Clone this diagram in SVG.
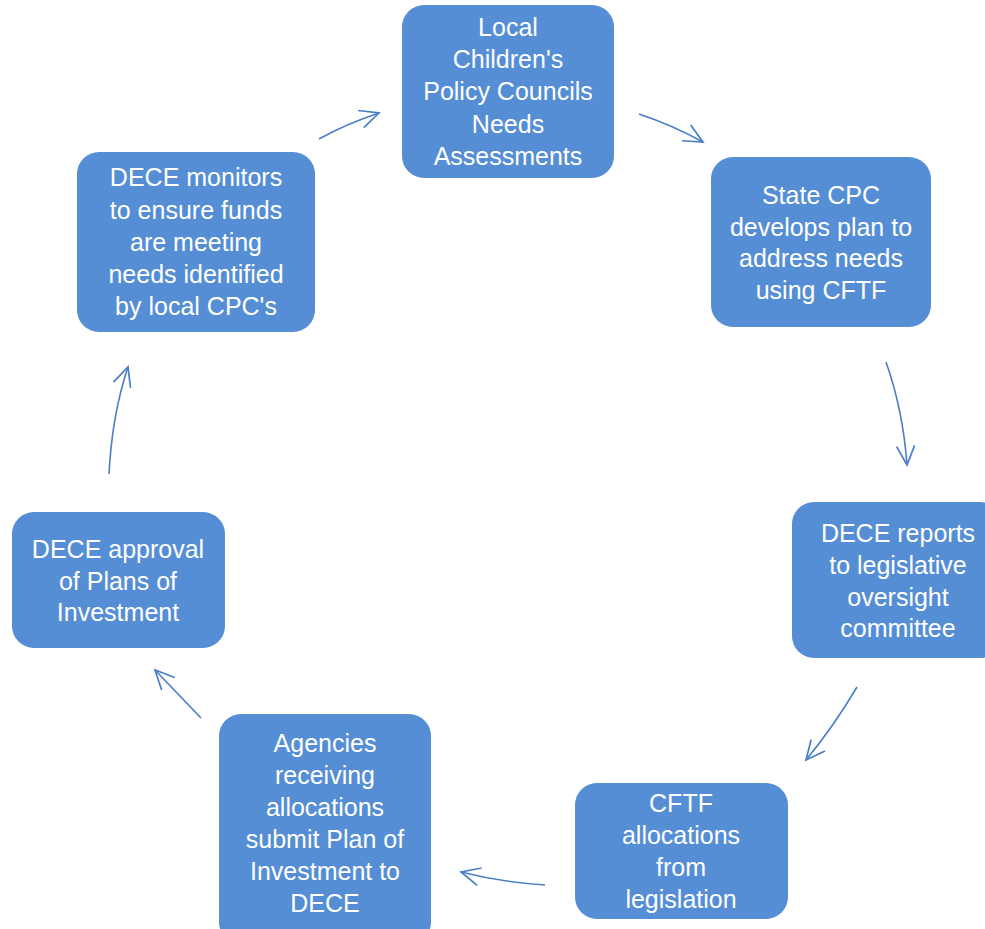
<svg xmlns="http://www.w3.org/2000/svg" width="985" height="929" viewBox="0 0 985 929">
<defs>
<style>
.box{fill:#558ED5;}
.t{font-family:"Liberation Sans",Arial,sans-serif;font-size:25px;fill:#ffffff;text-anchor:middle;}
.c{fill:none;stroke:#4A7EC7;stroke-width:1.6;}
</style>
<marker id="ah" markerWidth="26" markerHeight="26" refX="22" refY="13" orient="auto" markerUnits="userSpaceOnUse">
<path d="M3,4 L22,13 L3,22" fill="none" stroke="#4A7EC7" stroke-width="1.7"/>
</marker>
</defs>
<rect width="985" height="929" fill="#ffffff"/>
<g id="connectors">
<path class="c" d="M319,139 Q346,124 379,113" marker-end="url(#ah)"/>
<path class="c" d="M639,114 Q672,125 703,142" marker-end="url(#ah)"/>
<path class="c" d="M886,362 Q903,410 907,465" marker-end="url(#ah)"/>
<path class="c" d="M857,687 Q834,726 806,760" marker-end="url(#ah)"/>
<path class="c" d="M545,885 Q500,882 461,872" marker-end="url(#ah)"/>
<path class="c" d="M201,718 L155,670" marker-end="url(#ah)"/>
<path class="c" d="M109,474 Q112,415 128,367" marker-end="url(#ah)"/>
</g>
<g id="n1">
<rect class="box" x="402" y="5" width="212" height="173" rx="22"/>
<text class="t" x="508" y="36">Local</text>
<text class="t" x="508" y="68">Children's</text>
<text class="t" x="508" y="100">Policy Councils</text>
<text class="t" x="508" y="133">Needs</text>
<text class="t" x="508" y="165">Assessments</text>
</g>
<g id="n2">
<rect class="box" x="711" y="157" width="220" height="170" rx="22"/>
<text class="t" x="821" y="204">State CPC</text>
<text class="t" x="821" y="236">develops plan to</text>
<text class="t" x="821" y="267">address needs</text>
<text class="t" x="821" y="299">using CFTF</text>
</g>
<g id="n3">
<rect class="box" x="792" y="502" width="210" height="156" rx="22"/>
<text class="t" x="898" y="542">DECE reports</text>
<text class="t" x="898" y="574">to legislative</text>
<text class="t" x="898" y="606">oversight</text>
<text class="t" x="898" y="637">committee</text>
</g>
<g id="n4">
<rect class="box" x="575" y="783" width="213" height="136" rx="22"/>
<text class="t" x="681" y="812">CFTF</text>
<text class="t" x="681" y="844">allocations</text>
<text class="t" x="681" y="876">from</text>
<text class="t" x="681" y="908">legislation</text>
</g>
<g id="n5">
<rect class="box" x="219" y="714" width="212" height="230" rx="22"/>
<text class="t" x="325" y="752">Agencies</text>
<text class="t" x="325" y="784">receiving</text>
<text class="t" x="325" y="816">allocations</text>
<text class="t" x="325" y="848">submit Plan of</text>
<text class="t" x="325" y="880">Investment to</text>
<text class="t" x="325" y="912">DECE</text>
</g>
<g id="n6">
<rect class="box" x="12" y="512" width="213" height="136" rx="22"/>
<text class="t" x="118" y="558">DECE approval</text>
<text class="t" x="118" y="590">of Plans of</text>
<text class="t" x="118" y="621">Investment</text>
</g>
<g id="n7">
<rect class="box" x="77" y="152" width="238" height="180" rx="22"/>
<text class="t" x="196" y="186">DECE monitors</text>
<text class="t" x="196" y="219">to ensure funds</text>
<text class="t" x="196" y="251">are meeting</text>
<text class="t" x="196" y="283">needs identified</text>
<text class="t" x="196" y="315">by local CPC's</text>
</g>
</svg>
